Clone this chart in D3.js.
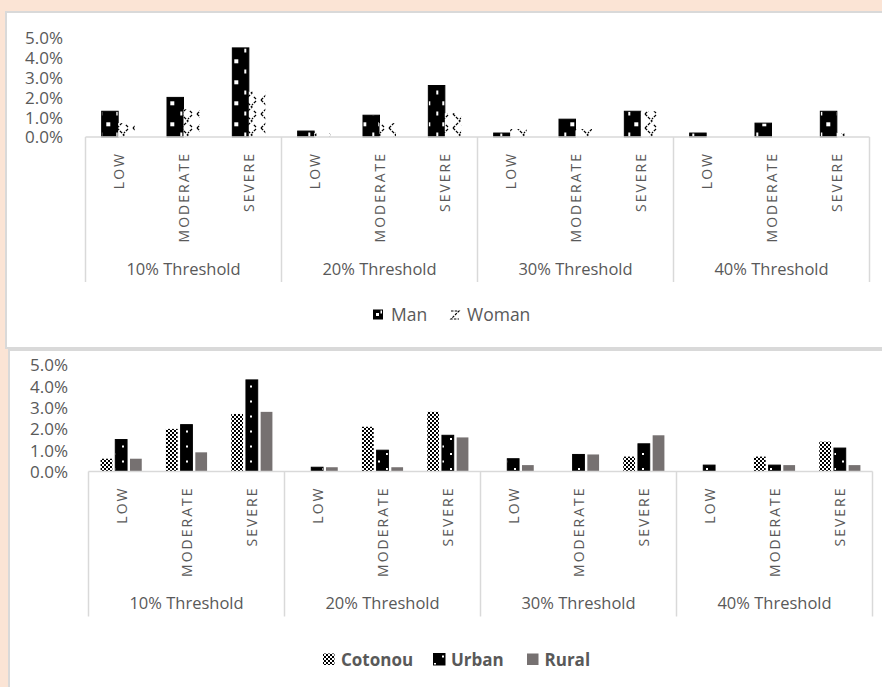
<!DOCTYPE html>
<html>
<head>
<meta charset="utf-8">
<script src="https://cdn.jsdelivr.net/npm/d3@7"></script>
<style>
  html, body { margin: 0; padding: 0; background: #fbe4d5; }
  svg { display: block; }
  text { font-family: "Open Sans", "DejaVu Sans", sans-serif; fill: #595959; }
</style>
</head>
<body>
<svg id="chart" width="882" height="687"></svg>
<script>
// ---- data (percent) ----
const groups = ["10% Threshold", "20% Threshold", "30% Threshold", "40% Threshold"];
const levels = ["LOW", "MODERATE", "SEVERE"];
const yTicks = [0, 1, 2, 3, 4, 5];

// Gender chart
const genderSeries = ["Man", "Woman"];
const manValues   = [1.3, 2.0, 4.5,  0.3, 1.1, 2.6,  0.2, 0.9, 1.3,  0.2, 0.7, 1.3];
const womanValues = [0.7, 1.4, 2.3,  0.2, 0.7, 1.2,  0.4, 0.4, 1.3,  0.0, 0.0, 0.2];

// Area chart
const areaSeries = ["Cotonou", "Urban", "Rural"];
const cotonouValues = [0.6, 2.0, 2.7,  0.0, 2.1, 2.8,  0.0, 0.0, 0.7,  0.0, 0.7, 1.4];
const urbanValues   = [1.5, 2.2, 4.3,  0.2, 1.0, 1.7,  0.6, 0.8, 1.3,  0.3, 0.3, 1.1];
const ruralValues   = [0.6, 0.9, 2.8,  0.2, 0.2, 1.6,  0.3, 0.8, 1.7,  0.0, 0.3, 0.3];

const categories = [];
groups.forEach((g, gi) => levels.forEach((l, li) => categories.push({ key: gi + "-" + li, group: g, level: l })));

const svg = d3.select("#chart");
const defs = svg.append("defs");

// ---- fill patterns ----
const manPat = defs.append("pattern").attr("id", "manPat")
  .attr("patternUnits", "userSpaceOnUse").attr("x", 0).attr("y", 3)
  .attr("width", 16).attr("height", 21);
manPat.append("rect").attr("width", 16).attr("height", 21).attr("fill", "#000");
manPat.append("rect").attr("x", 10.3).attr("y", 14.3).attr("width", 4).attr("height", 4).attr("fill", "#fff");
manPat.append("rect").attr("x", 4.3).attr("y", 3.5).attr("width", 2).attr("height", 4).attr("fill", "#fff");

const womanPat = defs.append("pattern").attr("id", "womanPat")
  .attr("patternUnits", "userSpaceOnUse").attr("x", 2).attr("y", 2)
  .attr("width", 16).attr("height", 14);
womanPat.append("rect").attr("width", 16).attr("height", 14).attr("fill", "#fff");
womanPat.append("path").attr("d", "M3,0 L10,7 L3,14 M14,1 L10,5 M14,13 L11,10")
  .attr("fill", "none").attr("stroke", "#000").attr("stroke-width", 1.3)
  .attr("stroke-dasharray", "3,1.2");

const cotPat = defs.append("pattern").attr("id", "cotPat")
  .attr("patternUnits", "userSpaceOnUse").attr("width", 4).attr("height", 4);
cotPat.append("rect").attr("width", 4).attr("height", 4).attr("fill", "#fff");
cotPat.append("rect").attr("width", 2).attr("height", 2).attr("fill", "#000");
cotPat.append("rect").attr("x", 2).attr("y", 2).attr("width", 2).attr("height", 2).attr("fill", "#000");

const urbPat = defs.append("pattern").attr("id", "urbPat")
  .attr("patternUnits", "userSpaceOnUse").attr("x", 0).attr("y", 0)
  .attr("width", 16).attr("height", 15);
urbPat.append("rect").attr("width", 16).attr("height", 15).attr("fill", "#000");
urbPat.append("rect").attr("x", 2).attr("y", 3).attr("width", 2).attr("height", 2).attr("fill", "#fff");
urbPat.append("rect").attr("x", 10).attr("y", 10.5).attr("width", 2).attr("height", 2).attr("fill", "#fff");

// ---- panels ----
svg.append("rect").attr("x", 6).attr("y", 12).attr("width", 900).attr("height", 336)
  .attr("fill", "#fff").attr("stroke", "#d9d9d9").attr("stroke-width", 2);
svg.append("rect").attr("x", 9).attr("y", 350).attr("width", 900).attr("height", 360)
  .attr("fill", "#fff").attr("stroke", "#d9d9d9").attr("stroke-width", 2);

// ---- shared drawing of one clustered bar chart ----
function drawChart(opt) {
  const g = svg.append("g");
  const x = d3.scaleBand().domain(categories.map(c => c.key))
    .range([opt.left, opt.right]).paddingInner(opt.pad).paddingOuter(opt.pad / 2);
  const xs = d3.scaleBand().domain(opt.series.map(s => s.name))
    .range([0, x.bandwidth()]).paddingInner(opt.innerPad);
  const y = d3.scaleLinear().domain([0, 5]).range([opt.base, opt.top]);

  // y tick labels
  const yAxis = d3.axisLeft(y).tickValues(yTicks).tickFormat(d => d.toFixed(1) + "%").tickSize(0).tickPadding(0);
  const ya = g.append("g").attr("transform", `translate(${opt.yLabelX},0)`).call(yAxis);
  ya.select(".domain").remove();
  ya.selectAll("text").attr("font-size", 17).attr("fill", "#595959")
    .attr("font-family", "Open Sans").attr("dy", "0.35em");

  // bars
  opt.series.forEach(s => {
    g.append("g").selectAll("rect").data(categories)
      .join("rect")
      .attr("x", (c) => x(c.key) + xs(s.name))
      .attr("width", xs.bandwidth())
      .attr("y", (c, i) => y(s.values[i]))
      .attr("height", (c, i) => opt.base - y(s.values[i]))
      .attr("fill", s.fill)
      .attr("stroke", s.stroke || "none")
      .attr("stroke-width", s.stroke ? 1 : 0);
  });

  // category axis: baseline and group separators
  const step = x.step();
  g.append("line").attr("x1", opt.left).attr("x2", opt.right)
    .attr("y1", opt.base).attr("y2", opt.base).attr("stroke", "#d9d9d9").attr("stroke-width", 1.5);
  d3.range(groups.length + 1).forEach(i => {
    const xx = opt.left + i * step * levels.length;
    g.append("line").attr("x1", xx).attr("x2", xx)
      .attr("y1", opt.base).attr("y2", opt.base + 145)
      .attr("stroke", "#d9d9d9").attr("stroke-width", 1.5);
  });

  // rotated level labels
  g.append("g").selectAll("text").data(categories).join("text")
    .attr("transform", c => `translate(${x(c.key) + x.bandwidth() / 2},${opt.base + 15}) rotate(-90)`)
    .attr("text-anchor", "end").attr("dominant-baseline", "central")
    .attr("font-size", 14).attr("letter-spacing", 2)
    .text(c => c.level);

  // group labels
  g.append("g").selectAll("text").data(groups).join("text")
    .attr("x", (d, i) => opt.left + (i + 0.5) * step * levels.length)
    .attr("y", opt.base + 131)
    .attr("text-anchor", "middle").attr("dominant-baseline", "central")
    .attr("font-size", 16.5)
    .text(d => d);
  return g;
}

// ---- gender chart ----
drawChart({
  left: 85.5, right: 869.5, top: 38, base: 137, pad: 0.495, innerPad: 0, yLabelX: 63,
  series: [
    { name: "Man", values: manValues, fill: "url(#manPat)", stroke: "#000" },
    { name: "Woman", values: womanValues, fill: "url(#womanPat)" }
  ]
});

// ---- area chart ----
drawChart({
  left: 88.5, right: 872.5, top: 365, base: 471.5, pad: 0.37, innerPad: 0.2, yLabelX: 68,
  series: [
    { name: "Cotonou", values: cotonouValues, fill: "url(#cotPat)" },
    { name: "Urban", values: urbanValues, fill: "url(#urbPat)", stroke: "#000" },
    { name: "Rural", values: ruralValues, fill: "#767171" }
  ]
});

// ---- legends ----
const leg1 = svg.append("g");
// Man swatch: black square with white marks
leg1.append("rect").attr("x", 373).attr("y", 309.5).attr("width", 10).attr("height", 10).attr("fill", "#000");
leg1.append("rect").attr("x", 376).attr("y", 313).attr("width", 3).attr("height", 3).attr("fill", "#fff");
leg1.append("rect").attr("x", 380.5).attr("y", 310.5).attr("width", 1.5).attr("height", 3).attr("fill", "#fff");
leg1.append("text").attr("x", 391).attr("y", 321).attr("font-size", 17.5).text(genderSeries[0]);
// Woman swatch: dashed zigzag
leg1.append("path").attr("d", "M451,311 L459,311 L451,319 L459,319")
  .attr("fill", "none").attr("stroke", "#000").attr("stroke-width", 1.2).attr("stroke-dasharray", "2.5,1.2");
leg1.append("text").attr("x", 467).attr("y", 321).attr("font-size", 17.5).text(genderSeries[1]);

const leg2 = svg.append("g");
const leg2Items = [
  { name: areaSeries[0], fill: "url(#cotPat)", stroke: "none", ix: 323, tx: 341 },
  { name: areaSeries[1], fill: "url(#urbPat)", stroke: "#000", ix: 433.5, tx: 451 },
  { name: areaSeries[2], fill: "#767171", stroke: "none", ix: 527, tx: 544.5 }
];
leg2Items.forEach(d => {
  leg2.append("rect").attr("x", d.ix).attr("y", 653.5).attr("width", 11.5).attr("height", 11.5)
    .attr("fill", d.fill).attr("stroke", d.stroke);
  leg2.append("text").attr("x", d.tx).attr("y", 665.5).attr("font-size", 17)
    .attr("font-weight", "bold").text(d.name);
});
</script>
</body>
</html>
